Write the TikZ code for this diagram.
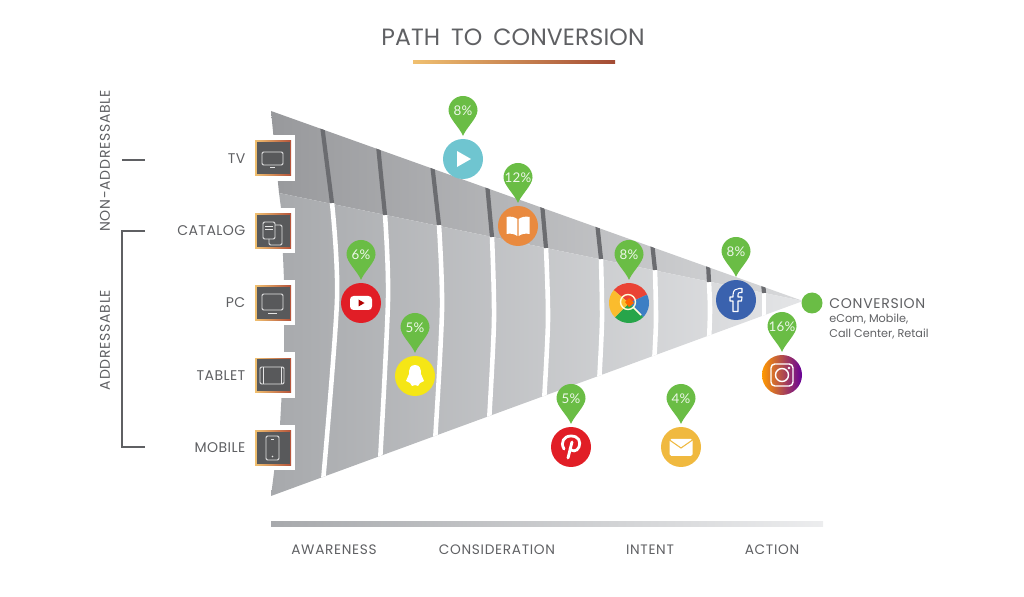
\documentclass[tikz,border=0pt]{standalone}
\usepackage{fontspec}
\setmainfont{Poppins}
\newfontfamily\headFont[LetterSpace=5]{Poppins}
\newfontfamily\sideFont[LetterSpace=3]{Poppins}
\newfontfamily\titleFont[LetterSpace=0.5,WordSpace=1.7]{Poppins}
\newfontfamily\pinFont[LetterSpace=2]{Lato}
\usetikzlibrary{positioning}
\definecolor{textGray}{HTML}{5F6063}
\definecolor{boxGray}{HTML}{58595B}
\definecolor{pinGreen}{HTML}{6ABD45}
\definecolor{sepDark}{HTML}{6B6C70}
\definecolor{playBlue}{HTML}{6FC5D0}
\definecolor{mapOrange}{HTML}{E98A3F}
\definecolor{logoRed}{HTML}{E11E26}
\definecolor{snapYellow}{HTML}{F5E616}
\definecolor{emailGold}{HTML}{F0B93F}
\definecolor{faceBlue}{HTML}{3A62AE}
\definecolor{bandLeft}{HTML}{98999C}
\definecolor{bandRight}{HTML}{D8D9DB}
\definecolor{lowLeft}{HTML}{A7A9AC}
\definecolor{lowRight}{HTML}{E4E5E7}
\definecolor{boxGold}{HTML}{F0C070}
\definecolor{boxRust}{HTML}{B5533A}
\definecolor{gRed}{HTML}{EA4335}
\definecolor{gBlue}{HTML}{3D7FC4}
\definecolor{gGreen}{HTML}{27A54A}
\definecolor{gYellow}{HTML}{FBBC2D}
\newcommand{\iconLine}{0.55pt}
\tikzset{
  logo/.style={circle,minimum size=0.8cm,inner sep=0pt},
  devicebox/.style={rectangle,minimum width=0.72cm,minimum height=0.7cm,inner sep=0pt,left color=boxGold,right color=boxRust},
  sidelabel/.style={text=textGray,font=\sideFont\fontsize{8}{10}\selectfont,anchor=east,inner sep=0pt},
  turnedlabel/.style={text=textGray,font=\headFont\fontsize{8}{10}\selectfont,rotate=90},
  stagelabel/.style={text=textGray,font=\headFont\fontsize{7.8}{10}\selectfont},
  pintext/.style={text=white!88!pinGreen,font=\pinFont\fontsize{7.6}{9}\selectfont,inner sep=0pt},
  devline/.style={draw=white!80!gray,line width=\iconLine,rounded corners=0.8pt},
  bracket/.style={draw=textGray,line width=1.1pt},
}
% pin over a logo: #1 logo node, #2 percent text
\newcommand{\pinMark}[2]{
  \begin{scope}[shift={(#1.center)}]
    \fill[pinGreen] (0,-23) .. controls (-3,-31) and (-14.5,-41) .. (-14.5,-48.5)
      arc (180:360:14.5) .. controls (14.5,-41) and (3,-31) .. cycle;
    \node[pintext] (#1pct) at (0,-48.5) {#2};
  \end{scope}
}
% icon box in front of the funnel: #1 name, #2 y, #3 label
\newcommand{\deviceBox}[3]{
  \fill[white] (255,#2-23) rectangle (295,#2+22.5);
  \node[devicebox] (#1) at (273,#2) {};
  \fill[boxGray] (256.6,#2-16) rectangle (289.6,#2+16);
  \node[sidelabel,left=0.18cm of #1] (#1label) {#3};
}
\begin{document}
\begin{tikzpicture}[x=0.02cm,y=-0.02cm]
\useasboundingbox (0,0) rectangle (1024,597);

\node[text=textGray,font=\titleFont\fontsize{13.4}{16}\selectfont] (title) at (513,37) {PATH TO CONVERSION};
\shade[left color=boxGold,middle color=orange!70!red!85,right color=boxRust!90!black] (413,60.5) rectangle (615,63.5);

% funnel
\shade[left color=bandLeft,right color=bandRight] (271,111) -- (803,301) -- (279,193) -- cycle;
\shade[left color=lowLeft,right color=lowRight] (279,193) -- (803,301) -- (271,496) -- (280,425) -- (284,353) -- (284,280) -- (281,208) -- cycle;

\begin{scope}
\clip (271,111) -- (803,301) -- (271,496) -- cycle;
\foreach \xa/\ya/\xb/\yb/\xc/\yc/\xd/\yd in {
  322/125/332/203/337/300/323/482,
  378/145/385/215/388/300/380/462,
  432/163/439/225/442/310/435/442,
  487/183/492/237/494/320/489/422,
  542/203/546/248/548/320/544/402,
  597/222/601/259/602/320/599/384,
  652/242/655/270/656/320/654/364,
  708/262/709/282/710/310/709/342,
  763/282/764/293/764/305/764/326}{
  \draw[white,line width=2.6pt] plot[smooth] coordinates {(\xb,\yb) (\xc,\yc) (\xd,\yd)};
  \draw[sepDark,line width=2.4pt] (\xa,\ya) -- (\xb,\yb);
}
\end{scope}

% devices
\deviceBox{tv}{158.5}{TV}
\deviceBox{catalog}{231}{CATALOG}
\deviceBox{pc}{303}{PC}
\deviceBox{tablet}{375.5}{TABLET}
\deviceBox{mobile}{448}{MOBILE}

\draw[devline] (262,152) rectangle (283,165);
\draw[devline] (270,167) -- (275,167);
\draw[devline] (263,222) rectangle (275,239);
\draw[devline] (275,225) -- (282,225) -- (282,245) -- (269,245) -- (269,239);
\draw[devline] (265,226) -- (273,226) (265,229) -- (273,229);
\draw[devline] (262,294) rectangle (283,310);
\draw[devline] (268,313) -- (277,313);
\draw[devline] (260,367) rectangle (284,384);
\draw[devline] (263,367) -- (263,384) (281,367) -- (281,384);
\draw[devline] (266,436) rectangle (279,460);
\draw[devline] (271,439) -- (274,439);
\fill[white!80!gray] (272.5,456.5) circle (0.9);

% addressable brackets
\coordinate (tvA) at (122,160);
\coordinate (tvB) at (145,160);
\coordinate (brTop) at (145,231);
\coordinate (brBot) at (145,447);
\draw[bracket] (tvA) -- (tvB);
\draw[bracket] (brTop) -- (122,231) -- (122,447) -- (brBot);
\node[turnedlabel] (nonaddr) at (105,161) {NON-ADDRESSABLE};
\node[turnedlabel] (addr) at (105,340) {ADDRESSABLE};

% stage bar
\shade[left color=lowLeft,right color=lowRight!70!white] (271,521) rectangle (823,526.5);
\node[stagelabel] (awareness) at (334,550) {AWARENESS};
\node[stagelabel] (consideration) at (497,550) {CONSIDERATION};
\node[stagelabel] (intent) at (650,550) {INTENT};
\node[stagelabel] (action) at (772,550) {ACTION};

% logos
\node[logo,fill=playBlue] (play) at (463,159) {};
\fill[white] (457,151) -- (471,159) -- (457,167) -- cycle;
\pinMark{play}{8\%}

\node[logo,fill=mapOrange] (map) at (518,226) {};
\begin{scope}[shift={(map.center)}]
  \fill[white] (-11.5,-9) .. controls (-8,-10) and (-3,-9) .. (-0.7,-7) -- (-0.7,10) .. controls (-3,8) and (-8,7) .. (-11.5,8) -- cycle;
  \fill[white] (11.5,-9) .. controls (8,-10) and (3,-9) .. (0.7,-7) -- (0.7,10) .. controls (3,8) and (8,7) .. (11.5,8) -- cycle;
\end{scope}
\pinMark{map}{12\%}

\node[logo,fill=logoRed] (youtube) at (361,303) {};
\begin{scope}[shift={(youtube.center)}]
  \fill[white,rounded corners=2pt] (-11,-7) rectangle (11,7);
  \fill[red!70!black] (-2.5,-3.5) -- (3.5,0) -- (-2.5,3.5) -- cycle;
\end{scope}
\pinMark{youtube}{6\%}

\node[logo,fill=snapYellow] (snapchat) at (415,376) {};
\begin{scope}[shift={(snapchat.center)}]
  \fill[white] (0,-11) .. controls (5,-11) and (6,-7) .. (6,-2) -- (9,5) -- (5,7) -- (3,10) -- (0,9)
    -- (-3,10) -- (-5,7) -- (-9,5) -- (-6,-2) .. controls (-6,-7) and (-5,-11) .. (0,-11) -- cycle;
\end{scope}
\pinMark{snapchat}{5\%}

\node[logo,fill=logoRed] (pinterest) at (571,447) {};
\begin{scope}[shift={(pinterest.center)}]
  \draw[white,line width=1.6pt,line cap=round] (-7,2) .. controls (-11,-5) and (-7,-11) .. (0,-11)
    .. controls (8,-11) and (10,-5) .. (8,0) .. controls (6,5) and (0,5) .. (-1,1);
  \draw[white,line width=1.6pt,line cap=round] (1,-5) -- (-3,11);
\end{scope}
\pinMark{pinterest}{5\%}

\node[logo,fill=emailGold] (email) at (681,447) {};
\begin{scope}[shift={(email.center)}]
  \fill[white,rounded corners=1pt] (-11.5,-8) rectangle (11.5,9);
  \draw[emailGold,line width=0.6pt] (-11.5,-7) -- (0,1) -- (11.5,-7);
\end{scope}
\pinMark{email}{4\%}

\node[logo] (search) at (629,303) {};
\begin{scope}[shift={(search.center)}]
  \foreach \col/\aa/\ab in {gRed/-140/-25,gBlue/-25/45,gGreen/45/135,gYellow/135/220}{
    \fill[\col] (0,0) -- (\aa:20) arc (\aa:\ab:20) -- cycle;
  }
  \fill[orange!80!red] (-4,-1) -- (0,-5) -- (5,0) -- (0,4) -- cycle;
  \draw[white!85!yellow,line width=0.8pt] (-1,-1) circle (7.5);
  \draw[white!85!yellow,line width=0.9pt] (4.5,4.5) -- (12,12);
\end{scope}
\pinMark{search}{8\%}

\node[logo,fill=faceBlue] (facebook) at (736,300) {};
\begin{scope}[shift={(facebook.center)}]
  \draw[white,line width=0.6pt,line join=round] (-3,11.5) -- (-3,1) -- (-6,1) -- (-6,-3) -- (-3,-3) -- (-3,-5)
    .. controls (-3,-10) and (0,-11.5) .. (3,-11.5) -- (6,-11.5) -- (6,-7.5) -- (4,-7.5)
    .. controls (2.5,-7.5) and (2,-7) .. (2,-5) -- (2,-3) -- (6,-3) -- (5.5,1) -- (2,1) -- (2,11.5) -- cycle;
\end{scope}
\pinMark{facebook}{8\%}

\node[logo,left color=orange!80!yellow,middle color=red!70!magenta,right color=violet!80!blue] (instagram) at (782,375) {};
\begin{scope}[shift={(instagram.center)}]
  \draw[white,line width=0.8pt,rounded corners=2.2pt] (-11,-11) rectangle (11,11);
  \draw[white,line width=0.8pt] (0,0) circle (6.5);
  \fill[white] (7,-7) circle (1.3);
\end{scope}
\pinMark{instagram}{16\%}

% conversion end point
\node[circle,fill=pinGreen,minimum size=0.42cm,inner sep=0pt] (conversion) at (812,303) {};
\node[text=textGray,font=\headFont\fontsize{8}{10}\selectfont,anchor=west,inner sep=0pt] (convlabel) at (829,303.5) {CONVERSION};
\node[text=textGray,font=\fontsize{6.4}{8.2}\selectfont,anchor=north west,align=left,inner sep=0pt] (convsub) at (829,314) {eCom, Mobile,\\Call Center, Retail};
\end{tikzpicture}
\end{document}
